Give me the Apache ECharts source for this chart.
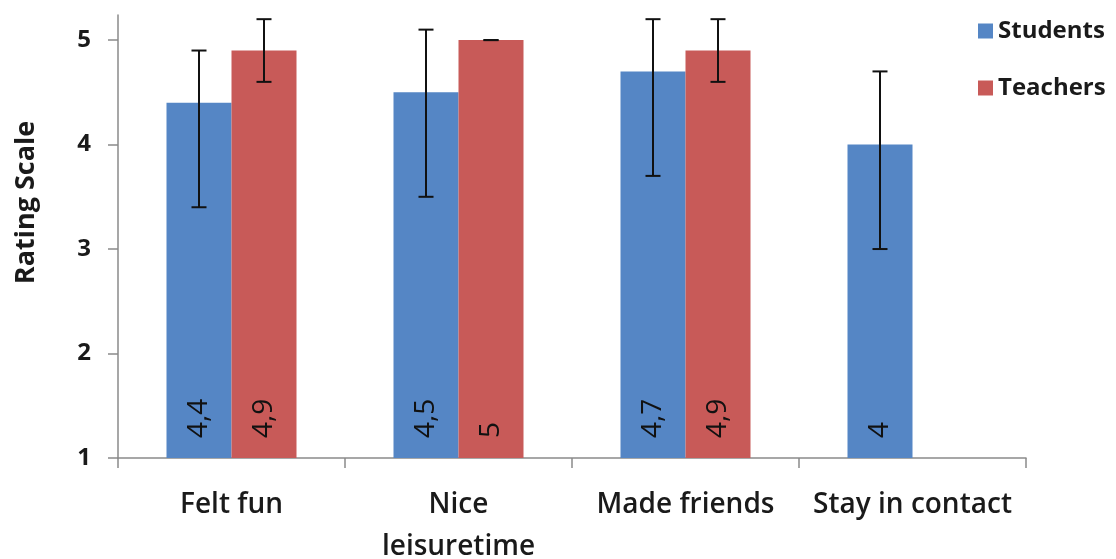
<!DOCTYPE html>
<html>
<head>
<meta charset="utf-8">
<script src="https://cdn.jsdelivr.net/npm/echarts@6/dist/echarts.min.js"></script>
<style>
html,body{margin:0;padding:0;background:#fff;}
#chart{width:1116px;height:559px;}
</style>
</head>
<body>
<div id="chart"></div>
<script>
const categories = ['Felt fun', 'Nice\nleisuretime', 'Made friends', 'Stay in contact'];
const students = [4.4, 4.5, 4.7, 4.0];
const teachers = [4.9, 5.0, 4.9, null];
const studentsLow = [3.4, 3.5, 3.7, 3.0];
const studentsHigh = [4.9, 5.1, 5.2, 4.7];
const teachersLow = [4.6, 5.0, 4.6, null];
const teachersHigh = [5.2, 5.0, 5.2, null];
const yTicks = [1, 2, 3, 4, 5];

const FONT = 'Open Sans';
const BLUE = '#5586C5';
const RED = '#C85A58';
const BAR_W = 65;

function errData(lo, hi) {
  return lo.map((l, i) => (l == null ? [i, '-', '-'] : [i, l, hi[i]]));
}
function errRender(offset) {
  return function (params, api) {
    const lo = api.value(1), hi = api.value(2);
    if (isNaN(lo) || isNaN(hi)) return null;
    const top = api.coord([api.value(0), hi]);
    const bot = api.coord([api.value(0), lo]);
    const x = top[0] + offset;
    const cap = 7.5;
    const style = { stroke: '#111', lineWidth: 2 };
    return {
      type: 'group',
      children: [
        { type: 'line', shape: { x1: x, y1: top[1], x2: x, y2: bot[1] }, style },
        { type: 'line', shape: { x1: x - cap, y1: top[1], x2: x + cap, y2: top[1] }, style },
        { type: 'line', shape: { x1: x - cap, y1: bot[1], x2: x + cap, y2: bot[1] }, style }
      ]
    };
  };
}
const labelCfg = {
  show: true,
  position: 'insideBottom',
  rotate: 90,
  align: 'left',
  verticalAlign: 'middle',
  distance: 20,
  fontFamily: FONT,
  fontSize: 28,
  color: '#111',
  formatter: p => String(p.value).replace('.', ',')
};

const chart = echarts.init(document.getElementById('chart'));
chart.setOption({
  animation: false,
  backgroundColor: '#fff',
  grid: { left: 118, right: 90, top: 15, bottom: 101, containLabel: false, outerBoundsMode: 'none' },
  legend: {
    orient: 'vertical',
    left: 973,
    top: 14,
    itemWidth: 15,
    itemHeight: 15,
    itemGap: 33,
    icon: 'rect',
    textStyle: { fontFamily: FONT, fontSize: 24, fontWeight: 'bold', color: '#1a1a1a' },
    data: ['Students', 'Teachers']
  },
  xAxis: {
    type: 'category',
    data: categories,
    axisLine: { lineStyle: { color: '#8a8a8a', width: 1.5 } },
    axisTick: { show: true, length: 10, lineStyle: { color: '#8a8a8a', width: 1.5 } },
    axisLabel: { fontFamily: FONT, fontSize: 28, fontWeight: 600, color: '#1a1a1a', margin: 26, lineHeight: 42, interval: 0 }
  },
  yAxis: {
    type: 'value',
    min: 1,
    max: 5.24,
    interval: 1,
    name: 'Rating Scale',
    nameLocation: 'middle',
    nameGap: 78,
    nameTextStyle: { fontFamily: FONT, fontSize: 27, fontWeight: 'bold', color: '#1a1a1a', padding: [0, 0, 0, 68] },
    splitLine: { show: false },
    axisLine: { show: true, lineStyle: { color: '#8a8a8a', width: 1.5 } },
    axisTick: { show: true, length: 10, customValues: yTicks, lineStyle: { color: '#8a8a8a', width: 1.5 } },
    axisLabel: { fontFamily: FONT, fontSize: 24, fontWeight: 'bold', color: '#1a1a1a', margin: 27, customValues: yTicks }
  },
  series: [
    { name: 'Students', type: 'bar', data: students, barWidth: BAR_W, barGap: '0%', itemStyle: { color: BLUE }, label: labelCfg },
    { name: 'Teachers', type: 'bar', data: teachers, barWidth: BAR_W, barGap: '0%', itemStyle: { color: RED }, label: labelCfg },
    { name: 'StudentsErr', type: 'custom', data: errData(studentsLow, studentsHigh), renderItem: errRender(-BAR_W / 2), z: 10, encode: { x: 0, y: [1, 2] } },
    { name: 'TeachersErr', type: 'custom', data: errData(teachersLow, teachersHigh), renderItem: errRender(BAR_W / 2), z: 10, encode: { x: 0, y: [1, 2] } }
  ]
});
</script>
</body>
</html>
